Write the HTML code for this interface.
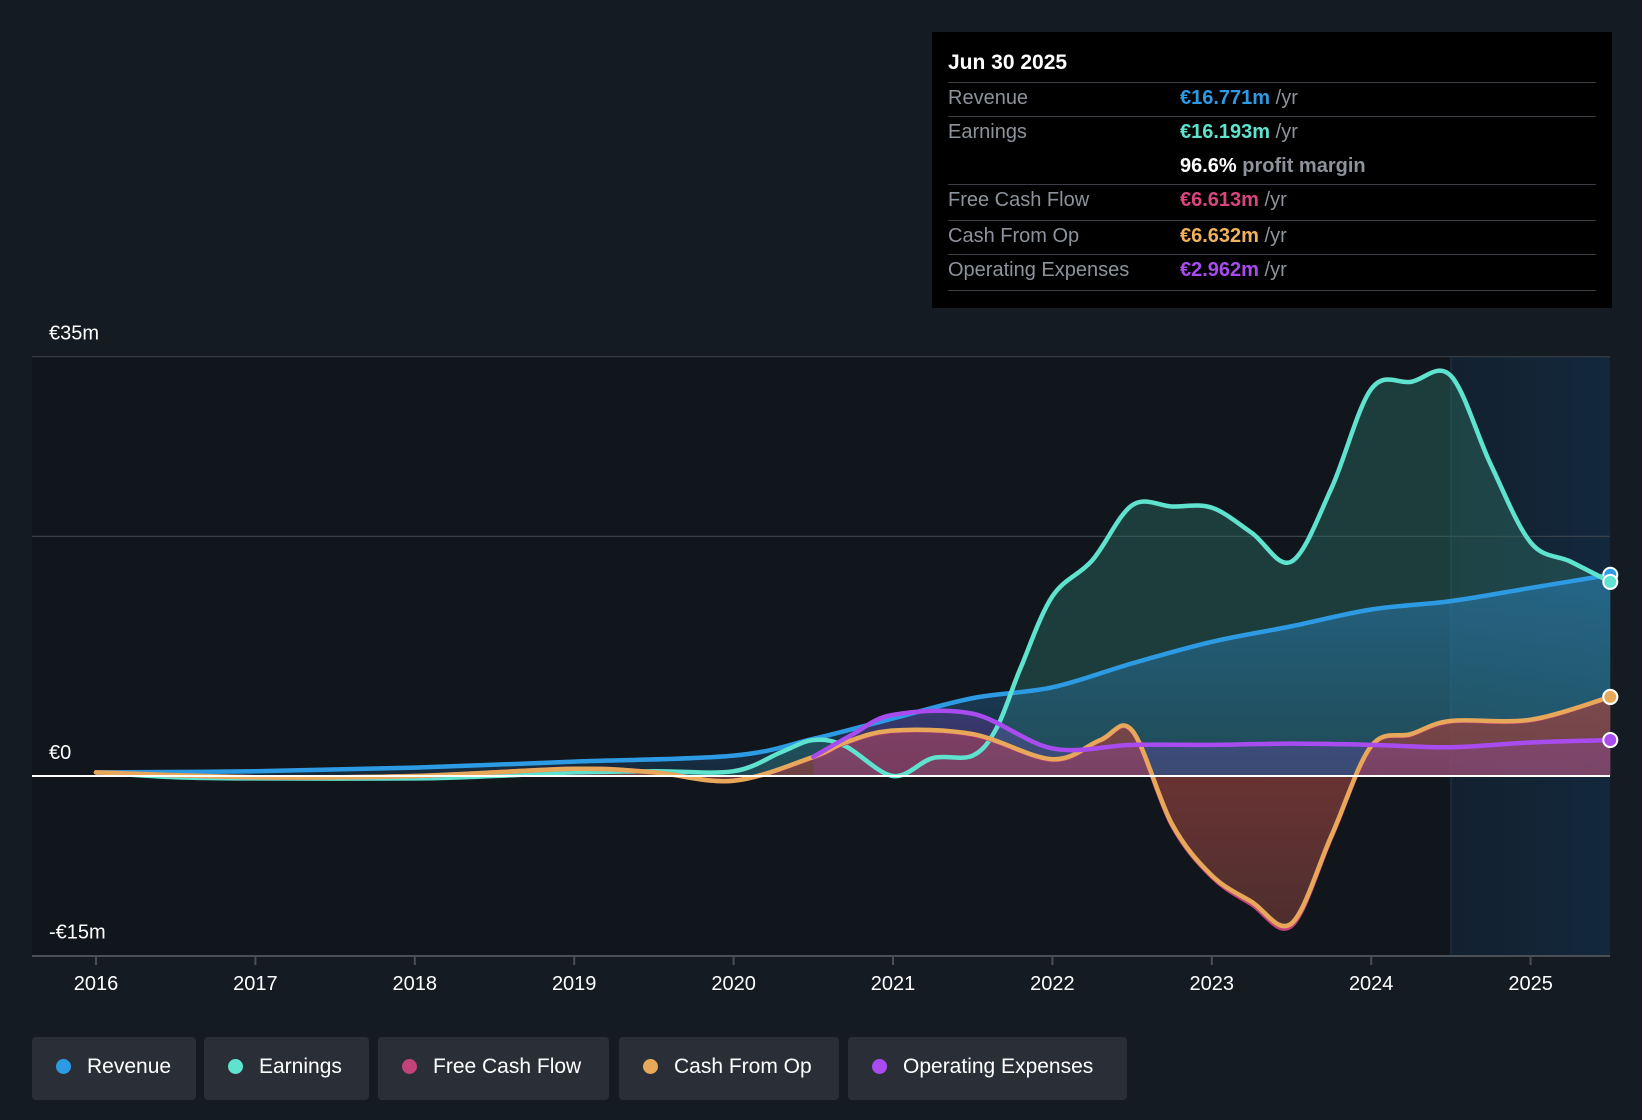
<!DOCTYPE html>
<html><head><meta charset="utf-8"><style>
body{margin:0;background:#151b23;width:1642px;height:1120px;overflow:hidden;font-family:"Liberation Sans",sans-serif;position:relative}
#tt{position:absolute;left:932px;top:32px;width:680px;height:276px;background:#000;}
.row{position:absolute;left:16px;right:16px;font-size:20px;color:#8d939b;}
.row .v{position:absolute;left:232px;font-weight:bold}
.line{position:absolute;left:16px;right:16px;height:1px;background:#3a3f46}
.leg{position:absolute;top:1037px;height:63px;background:#2a2f37;border-radius:4px;color:#fff;font-size:21px;line-height:60px;}
.leg i{display:inline-block;width:15px;height:15px;border-radius:50%;margin:0 16px 0 24px;vertical-align:-1px}
</style></head><body>
<svg id="chart" width="1642" height="1120" style="position:absolute;left:0;top:0">
<defs>
<linearGradient id="fc" x1="0" x2="1"><stop offset="0" stop-color="#13202e"/><stop offset="1" stop-color="#13283d"/></linearGradient>
<linearGradient id="rg" x1="0" y1="0" x2="0" y2="1"><stop offset="0" stop-color="#2a7fb8" stop-opacity="0.55"/><stop offset="1" stop-color="#2a7fb8" stop-opacity="0.2"/></linearGradient>
<linearGradient id="redg" x1="0" y1="0" x2="0" y2="1"><stop offset="0" stop-color="#8a2a30"/><stop offset="1" stop-color="#3a1c22"/></linearGradient>
</defs>
<g id="g"></g>
</svg>
<div id="tt">
<div class="row" style="top:19px;color:#fff;font-weight:bold;font-size:21px">Jun 30 2025</div>
<div class="line" style="top:50px"></div>
<div class="row" style="top:55px">Revenue<span class="v" style="color:#2d9be4">€16.771m <span style="color:#8d939b;font-weight:normal">/yr</span></span></div>
<div class="line" style="top:84px"></div>
<div class="row" style="top:89px">Earnings<span class="v" style="color:#5fe3cf">€16.193m <span style="color:#8d939b;font-weight:normal">/yr</span></span></div>
<div class="row" style="top:123px"><span class="v" style="color:#fff">96.6% <span style="color:#8d939b">profit margin</span></span></div>
<div class="line" style="top:152px"></div>
<div class="row" style="top:157px">Free Cash Flow<span class="v" style="color:#d9457f">€6.613m <span style="color:#8d939b;font-weight:normal">/yr</span></span></div>
<div class="line" style="top:188px"></div>
<div class="row" style="top:193px">Cash From Op<span class="v" style="color:#f0b25c">€6.632m <span style="color:#8d939b;font-weight:normal">/yr</span></span></div>
<div class="line" style="top:222px"></div>
<div class="row" style="top:227px">Operating Expenses<span class="v" style="color:#a84cf0">€2.962m <span style="color:#8d939b;font-weight:normal">/yr</span></span></div>
<div class="line" style="top:258px"></div>
</div>
<div class="leg" style="left:32px;width:164px"><i style="background:#2d9be4"></i>Revenue</div>
<div class="leg" style="left:204px;width:165px"><i style="background:#5fe3cf"></i>Earnings</div>
<div class="leg" style="left:378px;width:231px"><i style="background:#c2427a"></i>Free Cash Flow</div>
<div class="leg" style="left:619px;width:220px"><i style="background:#e8a85a"></i>Cash From Op</div>
<div class="leg" style="left:848px;width:279px"><i style="background:#a84cf0"></i>Operating Expenses</div>
<script>
const years=[2016,2017,2018,2019,2020,2021,2022,2023,2024,2025];
const yTickLabels=["€35m","€0","-€15m"];
const yTickVals=[35,0,-15];
const revX=[2016,2017,2018,2019,2020,2020.5,2021,2021.5,2022,2022.5,2023,2023.5,2024,2024.5,2025,2025.5];
const revY=[0.3,0.4,0.7,1.2,1.7,3.1,4.8,6.5,7.4,9.4,11.2,12.5,13.9,14.6,15.7,16.8];
const earnX=[2016,2016.5,2017,2018,2018.5,2019,2019.5,2020,2020.3,2020.5,2020.7,2021,2021.25,2021.5,2021.65,2021.8,2022,2022.25,2022.5,2022.75,2023,2023.25,2023.5,2023.75,2024,2024.25,2024.5,2024.75,2025,2025.25,2025.5];
const earnY=[0.3,-0.1,-0.2,-0.2,0,0.3,0.4,0.4,2.0,3.0,2.5,0,1.5,1.7,4,9,15,18,22.6,22.5,22.4,20.3,17.9,24,32.3,32.9,33.4,26,19.5,17.9,16.2];
const cfoX=[2016,2017,2018,2019,2019.5,2020,2020.5,2020.7,2021,2021.5,2022,2022.3,2022.5,2022.75,2023,2023.25,2023.5,2023.75,2024,2024.25,2024.5,2025,2025.5];
const cfoY=[0.3,-0.1,0,0.6,0.3,-0.4,1.6,2.8,3.8,3.5,1.4,3,3.8,-4,-8.3,-10.5,-12.3,-5,2.5,3.5,4.6,4.7,6.6];
const fcfX=cfoX;
const fcfY=[0.3,-0.1,0,0.6,0.3,-0.4,1.55,2.75,3.75,3.45,1.35,2.95,3.75,-4.1,-8.4,-10.7,-12.5,-5.1,2.45,3.45,4.55,4.65,6.6];
const opxX=[2020.5,2020.75,2021,2021.5,2022,2022.5,2023,2023.5,2024,2024.5,2025,2025.5];
const opxY=[1.6,3.5,5.1,5.2,2.3,2.6,2.6,2.7,2.6,2.4,2.8,3.0];

const X0=32,X1=1610,Y0=776,PX=11.98;
const sx=v=>96+(v-2016)*159.4;
const sy=v=>Y0-v*PX;
const NS="http://www.w3.org/2000/svg";
const g=document.getElementById('g');
function mk(t,a){const e=document.createElementNS(NS,t);for(const k in a)e.setAttribute(k,a[k]);g.appendChild(e);return e;}
function path(xs,ys){const p=xs.map((x,i)=>[sx(x),sy(ys[i])]);let d=`M${p[0][0]},${p[0][1]}`;
for(let i=0;i<p.length-1;i++){const a=p[Math.max(0,i-1)],b=p[i],c=p[i+1],e=p[Math.min(p.length-1,i+2)];
d+=`C${b[0]+(c[0]-a[0])/6},${b[1]+(c[1]-a[1])/6} ${c[0]-(e[0]-b[0])/6},${c[1]-(e[1]-b[1])/6} ${c[0]},${c[1]}`;}return d;}
let e;
e=mk('rect',{x:X0,y:357,width:X1-X0,height:599,fill:'#11151c'});

e=mk('rect',{x:1451,y:357,width:X1-1451,height:599,fill:'url(#fc)'});

mk('line',{x1:1451,x2:1451,y1:357,y2:956,stroke:'#1d3040','stroke-width':1.5});
[35,20].forEach(v=>{mk('line',{x1:X0,x2:X1,y1:sy(v),y2:sy(v),stroke:'#3a4048','stroke-width':1.2});});
mk('line',{x1:X0,x2:X1,y1:956,y2:956,stroke:'#4a4f56','stroke-width':2});
yTickVals.forEach((v,i)=>{e=mk('text',{x:49,y:sy(v)-17,fill:'#fff','font-size':20});e.textContent=yTickLabels[i];
});
years.forEach(y=>{mk('line',{x1:sx(y),x2:sx(y),y1:957,y2:965,stroke:'#4a4f56','stroke-width':2});
e=mk('text',{x:sx(y),y:990,fill:'#fff','font-size':20,'text-anchor':'middle'});e.textContent=y;
});
function area(xs,ys,fill,op,name){const d=path(xs,ys)+`L${sx(xs[xs.length-1])},${Y0}L${sx(xs[0])},${Y0}Z`;
e=mk('path',{d,fill,'fill-opacity':op});}
area(earnX,earnY,'#2d6e64',0.45,'earnings-area');
area(revX,revY,'url(#rg)',1,'revenue-area');
area(fcfX,fcfY,'url(#redg)',0.65,'fcf-area');
area(cfoX,cfoY,'#d9826a',0.2,'cfo-area');
area(opxX,opxY,'#a84cf0',0.2,'opex-area');
function line(xs,ys,c,name,w){e=mk('path',{d:path(xs,ys),fill:'none',stroke:c,'stroke-width':w||4.5,'stroke-linecap':'round'});

e=mk('circle',{cx:sx(xs[xs.length-1]),cy:sy(ys[ys.length-1]),r:7,fill:c,stroke:'#fff','stroke-width':2});
}
line(revX,revY,'#2d9be4','revenue-line');
line(earnX,earnY,'#5fe3cf','earnings-line');
line(fcfX,fcfY,'#c2427a','fcf-line');
line(cfoX,cfoY,'#e8a85a','cfo-line');
line(opxX,opxY,'#a84cf0','opex-line');
mk('line',{x1:X0,x2:X1,y1:Y0,y2:Y0,stroke:'#fff','stroke-width':2});
</script>
</body></html>
